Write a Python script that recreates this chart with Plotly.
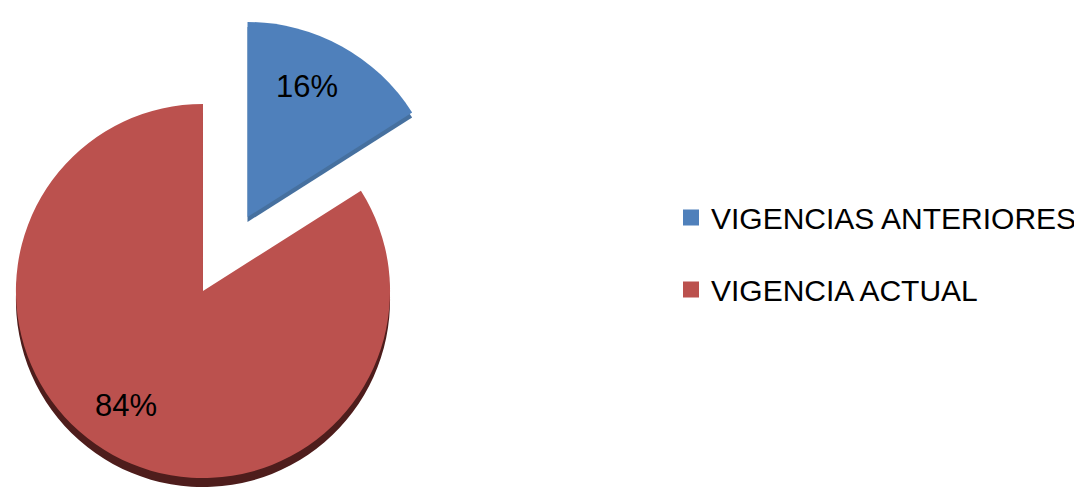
import plotly.graph_objects as go

labels = ["VIGENCIAS ANTERIORES", "VIGENCIA ACTUAL"]
values = [16, 84]
colors = ["#4f80bb", "#bb514e"]
rim_colors = ["#46709f", "#4e1d1c"]
pct_text = ["16%", "84%"]

OFF = 8  # browser default body margin
W, H = 1082 - OFF, 494 - OFF
FONT = "Liberation Sans"
CLEAR = "rgba(0,0,0,0)"


def dom(cx, cy, r):
    cx -= OFF
    cy -= OFF
    return dict(x=[(cx - r) / W, (cx + r) / W],
                y=[(H - cy - r) / H, (H - cy + r) / H])


def px(x, y):
    return (x - OFF) / W, 1 - (y - OFF) / H


common = dict(labels=labels, values=values, sort=False, direction="clockwise",
              rotation=0, textinfo="none", showlegend=False, hoverinfo="skip")

fig = go.Figure()

# 3D rims (shadow copies shifted down)
fig.add_trace(go.Pie(**common, domain=dom(205, 300, 189),
                     marker=dict(colors=[CLEAR, rim_colors[1]], line=dict(width=0))))
fig.add_trace(go.Pie(**common, domain=dom(250, 222, 197),
                     marker=dict(colors=[rim_colors[0], CLEAR], line=dict(width=0))))
# main red slice
fig.add_trace(go.Pie(**common, domain=dom(205, 291, 189),
                     marker=dict(colors=[CLEAR, colors[1]], line=dict(width=0))))
# pulled-out blue slice
fig.add_trace(go.Pie(**common, domain=dom(250, 217, 197),
                     marker=dict(colors=[colors[0], CLEAR], line=dict(width=0))))

# percentage labels
label_pos = [(310, 86), (127, 405)]
for t, (lx, ly) in zip(pct_text, label_pos):
    ax, ay = px(lx, ly)
    fig.add_annotation(x=ax, y=ay, xref="paper", yref="paper", text=t,
                       showarrow=False, xanchor="center", yanchor="middle",
                       font=dict(family=FONT, size=31, color="black"))

# legend entries
for i, (lab, col) in enumerate(zip(labels, colors)):
    fig.add_trace(go.Scatter(x=[None], y=[None], mode="markers", name=lab,
                             legendgroup=f"g{i}",
                             marker=dict(symbol="square", size=20, color=col),
                             hoverinfo="skip"))

lx, ly = px(678, 253.5)
fig.update_layout(
    width=W, height=H,
    margin=dict(l=0, r=0, t=0, b=0),
    paper_bgcolor="white", plot_bgcolor="white",
    xaxis=dict(visible=False), yaxis=dict(visible=False),
    legend=dict(x=lx, xanchor="left", y=ly, yanchor="middle",
                font=dict(family=FONT, size=30, color="black"),
                traceorder="grouped", tracegroupgap=30,
                bgcolor=CLEAR, borderwidth=0),
)

fig.write_html("out.html")
